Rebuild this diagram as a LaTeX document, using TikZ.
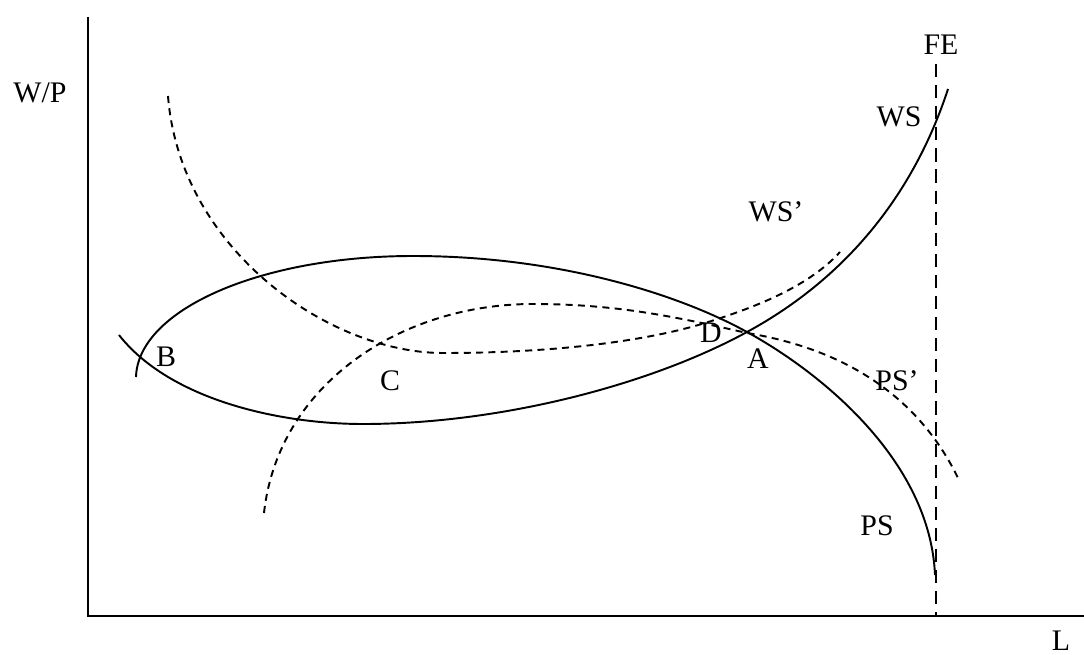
\documentclass[tikz,border=0pt]{standalone}
\usepackage{fontspec}
\setmainfont{Liberation Serif}
\usetikzlibrary{calc}

\begin{document}
\begin{tikzpicture}[x=0.02cm,y=-0.02cm,line width=1.1pt,
  every node/.style={font=\fontsize{17}{20}\selectfont,inner sep=0},
  shifted/.style={dash pattern=on 4pt off 3pt},
  fullemp/.style={dash pattern=on 7.5pt off 4.5pt}]
\useasboundingbox (0,0) rectangle (1084,655);
% axes
\coordinate (top) at (88,17);
\coordinate (origin) at (88,616);
\coordinate (right) at (1084,616);
\draw (top) -- (origin) -- (right);
\node (wp) at (40,93) {W/P};
\node (l) at (1061,641) {L};
% full employment line
\coordinate (fetop) at (936,64);
\coordinate (febot) at (936,616);
\draw[fullemp] (fetop) -- (febot);
\node (fe) at (941,45) {FE};
% solid curves
\draw (136,377) .. controls (138,310) and (260,256) .. (413,256)
  .. controls (560,256) and (680,295) .. (747,332)
  .. controls (820,372) and (930,460) .. (935,575); % PS
\draw (119,335) .. controls (170,400) and (280,424) .. (363,424)
  .. controls (500,424) and (650,385) .. (747,332)
  .. controls (850,276) and (915,190) .. (948,89); % WS
% dashed curves
\draw[shifted] (168,96) .. controls (180,250) and (330,353) .. (443,353)
  .. controls (560,353) and (650,340) .. (705,323)
  .. controls (760,306) and (810,285) .. (840,252); % WS'
\draw[shifted] (264,513) .. controls (278,385) and (400,304) .. (533,304)
  .. controls (620,304) and (680,318) .. (747,333)
  .. controls (850,350) and (920,400) .. (958,478); % PS'
% labels
\node (a) at (758,359) {A};
\node (b) at (166,357) {B};
\node (c) at (390,381) {C};
\node (d) at (711,333) {D};
\node (ws) at (899,117) {WS};
\node (wsp) at (776,212) {WS’};
\node (ps) at (877,526) {PS};
\node (psp) at (897,381) {PS’};
\end{tikzpicture}
\end{document}
